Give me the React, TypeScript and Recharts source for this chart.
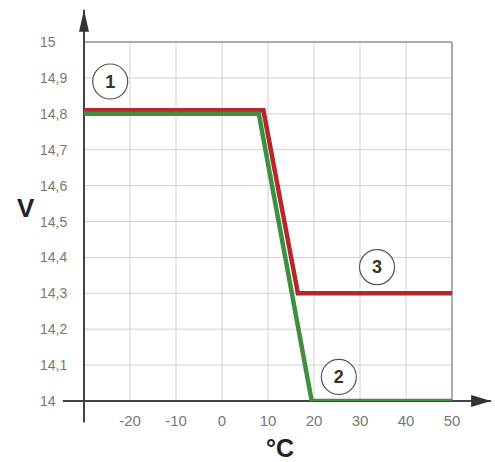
import React from 'react';
import { LineChart, Line, XAxis, YAxis, CartesianGrid, ReferenceLine, ReferenceDot } from 'recharts';

// series 1 (green) and 3 (red): charging voltage vs temperature
const greenTemp = [-30, 8, 19.5, 50];
const greenVolt = [14.8, 14.8, 14, 14];
const redTemp = [-30, 9, 16.5, 50];
const redVolt = [14.81, 14.81, 14.3, 14.3];

const tempTicks = [-20, -10, 0, 10, 20, 30, 40, 50];
const voltTicks = [14, 14.1, 14.2, 14.3, 14.4, 14.5, 14.6, 14.7, 14.8, 14.9, 15];

const markerLabels = ['1', '2', '3'];
const markerTemp = [-24.3, 25.4, 33.7];
const markerVolt = [14.89, 14.067, 14.373];

const greenData = greenTemp.map((t, i) => ({ t, v: greenVolt[i] }));
const redData = redTemp.map((t, i) => ({ t, v: redVolt[i] }));

const FONT = '"Liberation Sans", Arial, sans-serif';

if (typeof document !== 'undefined') document.body.style.margin = '0';

const ArrowLine = (dir: 'up' | 'right') => (props: any) => {
  const { x1, y1, x2, y2 } = props;
  const head =
    dir === 'right'
      ? `${x2},${y2} ${x2 - 20},${y2 - 6} ${x2 - 20},${y2 + 6}`
      : `${x2},${y2} ${x2 - 5},${y2 + 22} ${x2 + 5},${y2 + 22}`;
  return (
    <g>
      <line x1={x1} y1={y1} x2={x2} y2={y2} stroke="#444" strokeWidth={2} />
      <polygon points={head} fill="#333" />
    </g>
  );
};

const YTick = (props: any) => {
  const { y, payload } = props;
  return (
    <text x={40} y={y} dy={5} fill="#777" fontSize={14} fontFamily={FONT}>
      {String(payload.value).replace('.', ',')}
    </text>
  );
};

export default function App() {
  return (
    <LineChart width={495} height={462} margin={{ top: 42, right: 43, left: 10, bottom: 0 }}>
      <CartesianGrid stroke="#d0d0d0" strokeWidth={1} />
      <XAxis
        type="number"
        dataKey="t"
        domain={[-30, 50]}
        ticks={tempTicks}
        axisLine={false}
        tickLine={false}
        tickSize={0}
        tickMargin={14}
        height={61}
        tick={{ fill: '#777', fontSize: 15, fontFamily: FONT }}
        label={{ value: '°C', position: 'insideBottom', offset: 5, dx: 12, fill: '#222', fontSize: 25, fontWeight: 'bold', fontFamily: FONT }}
        allowDataOverflow
      />
      <YAxis
        type="number"
        dataKey="v"
        domain={[14, 15]}
        ticks={voltTicks}
        axisLine={false}
        tickLine={false}
        width={74}
        tick={<YTick />}
        label={{ value: 'V', position: 'insideLeft', offset: 7, dy: -14, fill: '#222', fontSize: 26, fontWeight: 'bold', fontFamily: FONT }}
        allowDataOverflow
      />
      <ReferenceLine y={15} stroke="#999" strokeWidth={1.5} />
      <ReferenceLine x={50} stroke="#999" strokeWidth={1.5} />
      <ReferenceLine segment={[{ x: -34.6, y: 14 }, { x: 58.5, y: 14 }]} ifOverflow="visible" shape={ArrowLine('right')} />
      <ReferenceLine segment={[{ x: -30, y: 13.94 }, { x: -30, y: 15.09 }]} ifOverflow="visible" shape={ArrowLine('up')} />
      <Line data={redData} dataKey="v" stroke="#b3282d" strokeWidth={4.5} dot={false} isAnimationActive={false} strokeLinejoin="miter" />
      <Line data={greenData} dataKey="v" stroke="#3f8f3f" strokeWidth={4.5} dot={false} isAnimationActive={false} strokeLinejoin="miter" />
      {markerLabels.map((m, i) => (
        <ReferenceDot
          key={m}
          x={markerTemp[i]}
          y={markerVolt[i]}
          r={17.5}
          fill="#fff"
          stroke="#555"
          strokeWidth={1.2}
          ifOverflow="visible"
          label={{ value: m, position: 'center', fill: '#333', fontSize: 18, fontWeight: 'bold', fontFamily: FONT }}
        />
      ))}
    </LineChart>
  );
}
